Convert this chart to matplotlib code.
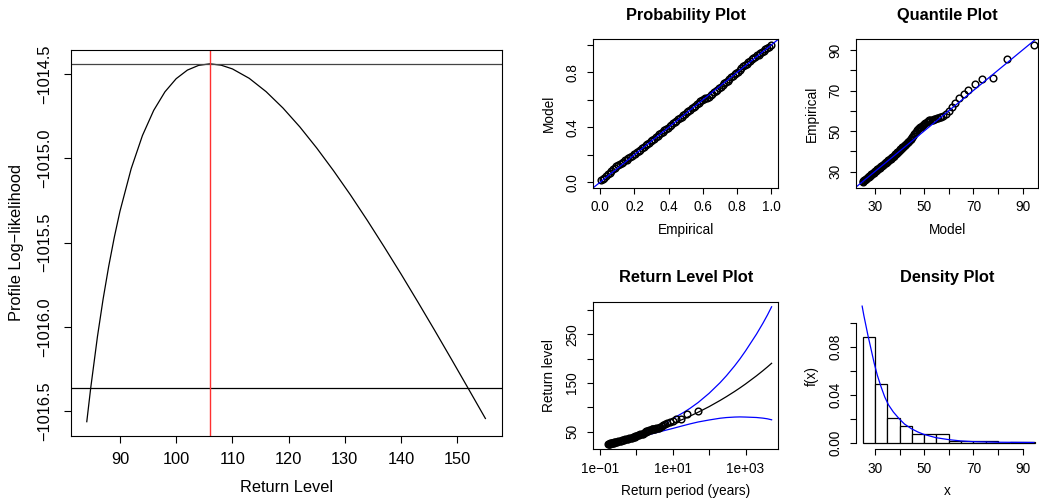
import matplotlib
matplotlib.use("Agg")
import matplotlib.pyplot as plt

plt.rcParams["font.family"] = ["Liberation Sans", "DejaVu Sans"]

MINUS = "\u2212"

# profile likelihood for the return level
prof_x = [84.1, 84.8, 86, 87, 88, 89, 90, 92, 94, 96, 98, 100, 102, 104, 106, 108, 110,
          113, 116, 119, 122, 125, 128, 131, 134, 137, 140, 143, 146, 149, 152, 155]
prof_y = [-1016.561, -1016.361, -1016.056, -1015.835, -1015.640, -1015.467, -1015.314,
          -1015.061, -1014.865, -1014.716, -1014.606, -1014.528, -1014.477, -1014.449,
          -1014.440, -1014.448, -1014.470, -1014.526, -1014.605, -1014.702, -1014.814,
          -1014.939, -1015.074, -1015.217, -1015.368, -1015.525, -1015.686, -1015.852,
          -1016.021, -1016.193, -1016.367, -1016.542]
prof_max = -1014.44
ci_level = -1016.36
mle_level = 106.0

# probability plot
prob_emp = [0.005, 0.015, 0.025, 0.035, 0.045, 0.055, 0.065, 0.075, 0.085, 0.095,
            0.105, 0.115, 0.125, 0.135, 0.145, 0.155, 0.165, 0.175, 0.185, 0.195,
            0.205, 0.215, 0.225, 0.235, 0.245, 0.255, 0.265, 0.275, 0.285, 0.295,
            0.305, 0.315, 0.325, 0.335, 0.345, 0.355, 0.365, 0.375, 0.385, 0.395,
            0.405, 0.415, 0.425, 0.435, 0.445, 0.455, 0.465, 0.475, 0.485, 0.495,
            0.505, 0.515, 0.525, 0.535, 0.545, 0.555, 0.565, 0.575, 0.585, 0.595,
            0.605, 0.615, 0.625, 0.635, 0.645, 0.655, 0.665, 0.675, 0.685, 0.695,
            0.705, 0.715, 0.725, 0.735, 0.745, 0.755, 0.765, 0.775, 0.785, 0.795,
            0.805, 0.815, 0.825, 0.835, 0.845, 0.855, 0.865, 0.875, 0.885, 0.895,
            0.905, 0.915, 0.925, 0.935, 0.945, 0.955, 0.965, 0.975, 0.985, 0.995]
prob_mod = [0.013, 0.023, 0.033, 0.043, 0.060, 0.070, 0.085, 0.095, 0.105, 0.115,
            0.125, 0.129, 0.139, 0.149, 0.159, 0.163, 0.173, 0.183, 0.193, 0.203,
            0.208, 0.218, 0.228, 0.238, 0.248, 0.258, 0.268, 0.278, 0.288, 0.298,
            0.308, 0.318, 0.328, 0.338, 0.348, 0.358, 0.368, 0.378, 0.388, 0.398,
            0.408, 0.418, 0.428, 0.438, 0.448, 0.458, 0.468, 0.478, 0.488, 0.498,
            0.508, 0.518, 0.528, 0.538, 0.548, 0.558, 0.568, 0.578, 0.588, 0.598,
            0.602, 0.612, 0.613, 0.623, 0.633, 0.643, 0.653, 0.663, 0.673, 0.683,
            0.693, 0.709, 0.719, 0.729, 0.739, 0.749, 0.765, 0.775, 0.785, 0.795,
            0.805, 0.815, 0.833, 0.843, 0.853, 0.863, 0.873, 0.883, 0.893, 0.903,
            0.913, 0.923, 0.927, 0.937, 0.947, 0.957, 0.967, 0.977, 0.987, 0.995]

# quantile plot
qq_model = [25.0, 25.3, 25.6, 25.9, 26.2, 26.5, 26.8, 27.1, 27.4, 27.7, 28.0, 28.3, 28.6,
            28.9, 29.2, 29.5, 29.8, 30.1, 30.4, 30.7, 31.0, 31.3, 31.6, 31.9, 32.2, 32.5,
            32.8, 33.1, 33.4, 33.7, 34.0, 34.3, 34.6, 34.9, 35.2, 35.5, 35.8, 36.1, 36.4,
            36.7, 37.0, 37.3, 37.6, 37.9, 38.2, 38.5, 38.8, 39.1, 39.4, 39.7, 40.0, 40.3,
            40.6, 40.9, 41.2, 41.5, 41.8, 42.1, 42.4, 42.7, 43.0, 43.3, 43.6, 43.9, 44.2,
            44.5, 44.8, 45.2, 45.6, 46.0, 46.4, 46.8, 47.2, 47.6, 48.0, 48.4, 48.8, 49.2,
            49.6, 50.0, 50.5, 51.0, 51.5, 52.0, 52.5, 53.0, 53.5, 54.0, 54.6, 55.2, 55.8,
            56.4, 57.0, 57.6, 58.9, 60.3, 61.4, 62.7, 64.3, 66.0, 68.0, 70.7, 73.7, 77.8,
            83.6, 94.5]
qq_emp = [25.0, 25.3, 25.6, 25.9, 26.2, 26.5, 26.8, 27.1, 27.4, 27.7, 28.0, 28.3, 28.6,
          28.9, 29.2, 29.5, 29.8, 30.1, 30.4, 30.7, 31.0, 31.3, 31.6, 31.9, 32.2, 32.5,
          32.8, 33.1, 33.4, 33.7, 34.0, 34.3, 34.6, 34.9, 35.2, 35.5, 35.8, 36.1, 36.4,
          36.7, 37.0, 37.3, 37.6, 37.9, 38.4, 38.8, 39.1, 39.5, 39.8, 40.2, 40.5, 40.9,
          41.2, 41.6, 41.9, 42.3, 42.6, 43.0, 43.3, 43.7, 44.0, 44.4, 44.7, 45.1, 45.5,
          45.9, 46.3, 46.9, 47.6, 48.3, 48.9, 49.6, 50.3, 50.9, 51.4, 51.8, 52.2, 52.5,
          52.9, 53.3, 53.8, 54.3, 54.8, 55.2, 55.4, 55.5, 55.6, 55.8, 56.1, 56.4, 56.6,
          56.8, 57.0, 57.3, 58.2, 59.8, 61.9, 63.9, 66.4, 68.1, 70.2, 73.0, 75.6, 76.0,
          85.4, 92.6]

# return level plot
rl_period = [0.17, 0.175, 0.18, 0.185, 0.19, 0.2, 0.21, 0.22, 0.23, 0.24, 0.25, 0.265,
             0.28, 0.3, 0.32, 0.35, 0.37, 0.4, 0.43, 0.46, 0.5, 0.55, 0.6, 0.65, 0.7,
             0.75, 0.8, 0.85, 0.9, 0.95, 1.0, 1.1, 1.2, 1.3, 1.4, 1.5, 1.6, 1.7, 1.8,
             1.9, 2.0, 2.15, 2.3, 2.5, 2.63, 2.78, 2.94, 3.13, 3.33, 3.57, 3.85, 4.17,
             4.55, 5.0, 5.56, 6.25, 7.14, 8.33, 10.0, 12.5, 16.7, 25.0, 50.0]
rl_level = [25.0, 25.3, 25.5, 25.7, 25.9, 26.3, 26.7, 27.1, 27.5, 27.8, 28.1, 28.6,
            29.1, 29.7, 30.2, 31.0, 31.5, 32.1, 32.8, 33.4, 34.1, 35.0, 35.8, 36.5, 37.2,
            38.0, 38.7, 39.4, 40.1, 40.7, 41.4, 42.5, 43.4, 44.3, 45.2, 46.2, 47.3, 48.4,
            49.5, 50.5, 51.3, 52.1, 52.8, 54.0, 55.3, 55.5, 55.7, 56.0, 56.4, 56.7, 57.3,
            58.2, 59.8, 61.9, 63.9, 66.4, 68.1, 70.2, 73.0, 75.6, 76.0, 85.4, 92.6]
fit_period = [0.17, 0.3, 0.5, 1, 2, 3, 5, 10, 20, 30, 50, 100, 200, 300, 500, 700, 1000,
              2000, 3000, 4000, 5200]
fit_level = [25.0, 29.7, 34.1, 40.6, 47.7, 52.1, 58.0, 66.7, 76.2, 82.1, 90.0, 101.5,
             114.2, 122.1, 132.6, 139.9, 148.0, 164.8, 175.3, 183.1, 190.5]
ci_upper = [26.5, 31.6, 36.5, 43.8, 52.2, 57.6, 65.0, 76.7, 89.7, 98.1, 110.0, 128.9,
            150.7, 165.1, 185.1, 199.4, 215.9, 250.4, 272.7, 289.7, 306.5]
ci_lower = [23.5, 27.8, 31.7, 37.4, 43.2, 46.6, 51.0, 56.7, 62.7, 66.1, 70.0, 74.1,
            77.7, 79.1, 80.1, 80.4, 80.1, 79.2, 77.9, 76.5, 74.5]

# density plot
hist_edges = [25, 30, 35, 40, 45, 50, 55, 60, 65, 70, 75, 80, 85, 90, 95]
hist_dens = [0.088, 0.049, 0.0207, 0.0135, 0.0074, 0.0068, 0.0068, 0.00135, 0.00135,
             0.00135, 0.00135, 0.0, 0.00068, 0.00068]
dens_x = [24.8, 25.5, 26.3, 27.2, 28.2, 29.7, 31.0, 32.5, 34.0, 35.5, 37.5, 39.8, 42.0,
          44.8, 47.5, 49.8, 54.8, 59.9, 64.8, 69.8, 79.7, 94.6]
dens_y = [0.1139, 0.106, 0.098, 0.089, 0.080, 0.0662, 0.056, 0.0465, 0.038, 0.0315,
          0.0255, 0.0200, 0.0155, 0.0116, 0.0088, 0.0069, 0.0041, 0.0025, 0.0014,
          0.0008, 0.0003, 0.0001]

W, H = 1039, 503
fig = plt.figure(figsize=(W / 100, H / 100), dpi=100)


def px_axes(left, top, right, bottom):
    return fig.add_axes([left / W, 1 - bottom / H, (right - left) / W, (bottom - top) / H])


def style(ax, fs, tick_len, xpad, ypad):
    for s in ax.spines.values():
        s.set_linewidth(0.8)
    ax.tick_params(length=tick_len, width=0.8, labelsize=fs, direction="out")
    ax.tick_params(axis="x", pad=xpad)
    ax.tick_params(axis="y", pad=ypad, labelrotation=90)
    for lab in ax.get_yticklabels():
        lab.set_va("center")


def fmt_labels(ticks, shown, fmt):
    return [fmt(t).replace("-", MINUS) if t in shown else "" for t in ticks]


# ---------- profile likelihood ----------
ax = px_axes(70.7, 50, 501.7, 435.7)
ax.plot(prof_x, prof_y, color="black", lw=0.9)
ax.axhline(prof_max, color="#444444", lw=0.9)
ax.axhline(ci_level, color="black", lw=0.9)
ax.axvline(mle_level, color="#ff3030", lw=1.0)
ax.set_xlim(81.24, 157.9)
ax.set_ylim(-1016.644, -1014.358)
ax.set_xticks([90, 100, 110, 120, 130, 140, 150])
yt = [-1016.5, -1016.0, -1015.5, -1015.0, -1014.5]
ax.set_yticks(yt)
ax.set_yticklabels([("%.1f" % v).replace("-", MINUS) for v in yt])
style(ax, 11.8, 5, 6.5, 8)
ax.set_xlabel("Return Level", fontsize=11.8)
ax.xaxis.set_label_coords(0.5, -52 / 385.7)
ax.xaxis.label.set_va("center")
ax.set_ylabel("Profile Log" + MINUS + "likelihood", fontsize=11.8)
ax.yaxis.set_label_coords(-54 / 431, 0.5)
ax.yaxis.label.set_va("center")

fs = 9.8
pt_style = dict(ls="none", marker="o", ms=4.8, mfc="none", mec="black", mew=1.05)


def panel_text(ax, title, xlabel, ylabel, hpx, wpx):
    ax.text(0.5, 1 + 24 / hpx, title, transform=ax.transAxes, ha="center", va="center",
            fontsize=11.8, fontweight="bold")
    ax.set_xlabel(xlabel, fontsize=fs)
    ax.xaxis.set_label_coords(0.5, -42 / hpx)
    ax.xaxis.label.set_va("center")
    ax.set_ylabel(ylabel, fontsize=fs)
    ax.yaxis.set_label_coords(-44 / wpx, 0.5)
    ax.yaxis.label.set_va("center")


# ---------- probability plot ----------
ax = px_axes(593.3, 39.3, 778.3, 187.7)
ax.plot(prob_emp, prob_mod, **pt_style)
ax.axline((0, 0), slope=1, color="blue", lw=0.9)
ax.set_xlim(-0.04, 1.04)
ax.set_ylim(-0.04, 1.04)
t = [0.0, 0.2, 0.4, 0.6, 0.8, 1.0]
ax.set_xticks(t)
ax.set_xticklabels(["%.1f" % v for v in t])
ax.set_yticks(t)
ax.set_yticklabels(fmt_labels(t, [0.0, 0.4, 0.8], lambda v: "%.1f" % v))
style(ax, fs, 4, 5, 6)
panel_text(ax, "Probability Plot", "Empirical", "Model", 148.4, 185)

# ---------- quantile plot ----------
ax = px_axes(856, 39.3, 1038.3, 187.7)
ax.plot(qq_model, qq_emp, **pt_style)
ax.axline((0, 0), slope=1, color="blue", lw=0.9)
ax.set_xlim(22.3, 96.4)
ax.set_ylim(22.0, 95.3)
t = [30, 40, 50, 60, 70, 80, 90]
ax.set_xticks(t)
ax.set_xticklabels(fmt_labels(t, [30, 50, 70, 90], str))
ax.set_yticks(t)
ax.set_yticklabels(fmt_labels(t, [30, 50, 70, 90], str))
style(ax, fs, 4, 5, 6)
panel_text(ax, "Quantile Plot", "Model", "Empirical", 148.4, 182.3)

# ---------- return level plot ----------
ax = px_axes(593.3, 301.7, 778.3, 449.3)
ax.plot(fit_period, ci_upper, color="blue", lw=0.9)
ax.plot(fit_period, ci_lower, color="blue", lw=0.9)
ax.plot(fit_period, fit_level, color="black", lw=0.9)
ax.plot(rl_period, rl_level, **pt_style)
ax.set_xscale("log")
ax.set_xlim(10 ** -1.18, 10 ** 3.9)
ax.set_ylim(13.9, 317)
t = [0.1, 1, 10, 100, 1000]
ax.set_xticks(t)
ax.set_xticklabels(["1e" + MINUS + "01", "", "1e+01", "", "1e+03"])
ax.minorticks_off()
t = [50, 100, 150, 200, 250, 300]
ax.set_yticks(t)
ax.set_yticklabels(fmt_labels(t, [50, 150, 250], str))
style(ax, fs, 4, 5, 6)
panel_text(ax, "Return Level Plot", "Return period (years)", "Return level", 147.6, 185)

# ---------- density plot ----------
ax = px_axes(856, 301.7, 1038.3, 449.3)
widths = [b - a for a, b in zip(hist_edges[:-1], hist_edges[1:])]
ax.bar(hist_edges[:-1], hist_dens, width=widths, align="edge", color="white",
       edgecolor="black", lw=0.9)
ax.plot(dens_x, dens_y, color="blue", lw=0.9)
ax.set_xlim(22.3, 96.4)
ax.set_ylim(-0.0056, 0.1176)
t = [30, 40, 50, 60, 70, 80, 90]
ax.set_xticks(t)
ax.set_xticklabels(fmt_labels(t, [30, 50, 70, 90], str))
t = [0.0, 0.02, 0.04, 0.06, 0.08, 0.10]
ax.set_yticks(t)
ax.set_yticklabels(fmt_labels(t, [0.0, 0.04, 0.08], lambda v: "%.2f" % v))
ax.spines["top"].set_visible(False)
ax.spines["right"].set_visible(False)
ax.spines["bottom"].set_bounds(30, 90)
ax.spines["left"].set_bounds(0, 0.10)
style(ax, fs, 4, 5, 6)
panel_text(ax, "Density Plot", "x", "f(x)", 147.6, 182.3)

fig.savefig("out.png", dpi=100)
